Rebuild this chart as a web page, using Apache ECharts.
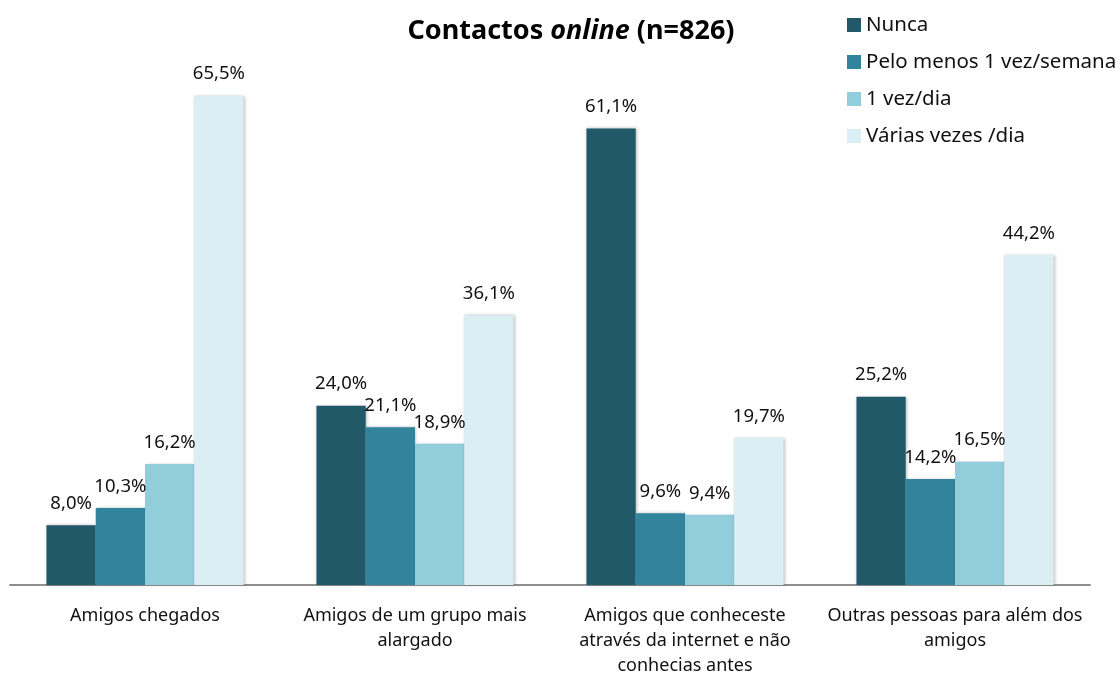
<!DOCTYPE html>
<html>
<head>
<meta charset="utf-8">
<script src="https://cdn.jsdelivr.net/npm/echarts@6/dist/echarts.min.js"></script>
<style>
  html, body { margin: 0; padding: 0; background: #fff; }
  #chart { width: 1120px; height: 675px; }
</style>
</head>
<body>
<div id="chart"></div>
<script>
const categories = [
  'Amigos chegados',
  'Amigos de um grupo mais\nalargado',
  'Amigos que conheceste\natravés da internet e não\nconhecias antes',
  'Outras pessoas para além dos\namigos',
];
const seriesNames = ['Nunca', 'Pelo menos 1 vez/semana', '1 vez/dia', 'Várias vezes /dia'];
const nunca = [8.0, 24.0, 61.1, 25.2];
const semana = [10.3, 21.1, 9.6, 14.2];
const umaVezDia = [16.2, 18.9, 9.4, 16.5];
const variasVezes = [65.5, 36.1, 19.7, 44.2];
const colors = ['#215968', '#31849b', '#92cddc', '#daeef3'];

const font = '"Noto Sans", sans-serif';
const chart = echarts.init(document.getElementById('chart'));

const serie = (name, data, color) => ({
  name,
  type: 'bar',
  data,
  barGap: '0%',
  barCategoryGap: '27%',
  itemStyle: {
    color,
    shadowColor: 'rgba(0,0,0,0.25)',
    shadowBlur: 3,
    shadowOffsetX: 1,
  },
  label: {
    show: true,
    position: 'top',
    distance: 12,
    color: '#111',
    fontFamily: font,
    fontSize: 18.5,
    formatter: ({ value }) => value.toFixed(1).replace('.', ',') + '%',
  },
});

chart.setOption({
  animation: false,
  title: {
    text: '{b|Contactos }{i|online}{b| (n=826)}',
    left: 566,
    textAlign: 'center',
    top: 13,
    textStyle: {
      rich: {
        b: { fontFamily: font, fontSize: 27, fontWeight: 'bold', color: '#000' },
        i: { fontFamily: font, fontSize: 27, fontWeight: 'bold', fontStyle: 'italic', color: '#000' },
      },
    },
  },
  legend: {
    orient: 'vertical',
    left: 842,
    top: 9,
    itemWidth: 14,
    itemHeight: 14,
    itemGap: 15,
    icon: 'rect',
    data: seriesNames,
    textStyle: { fontFamily: font, fontSize: 20.5, color: '#111', lineHeight: 22 },
  },
  grid: { left: 10, right: 30, top: 62, bottom: 90, outerBoundsMode: 'none' },
  xAxis: {
    type: 'category',
    data: categories,
    axisLine: { show: true, lineStyle: { color: '#8f8f8f', width: 2 } },
    axisTick: { show: false },
    axisLabel: {
      margin: 18,
      color: '#111',
      fontFamily: font,
      fontSize: 18,
      lineHeight: 25,
      interval: 0,
    },
  },
  yAxis: {
    type: 'value',
    min: 0,
    max: 70,
    show: false,
    splitLine: { show: false },
  },
  series: [
    serie(seriesNames[0], nunca, colors[0]),
    serie(seriesNames[1], semana, colors[1]),
    serie(seriesNames[2], umaVezDia, colors[2]),
    serie(seriesNames[3], variasVezes, colors[3]),
  ],
});
</script>
</body>
</html>
